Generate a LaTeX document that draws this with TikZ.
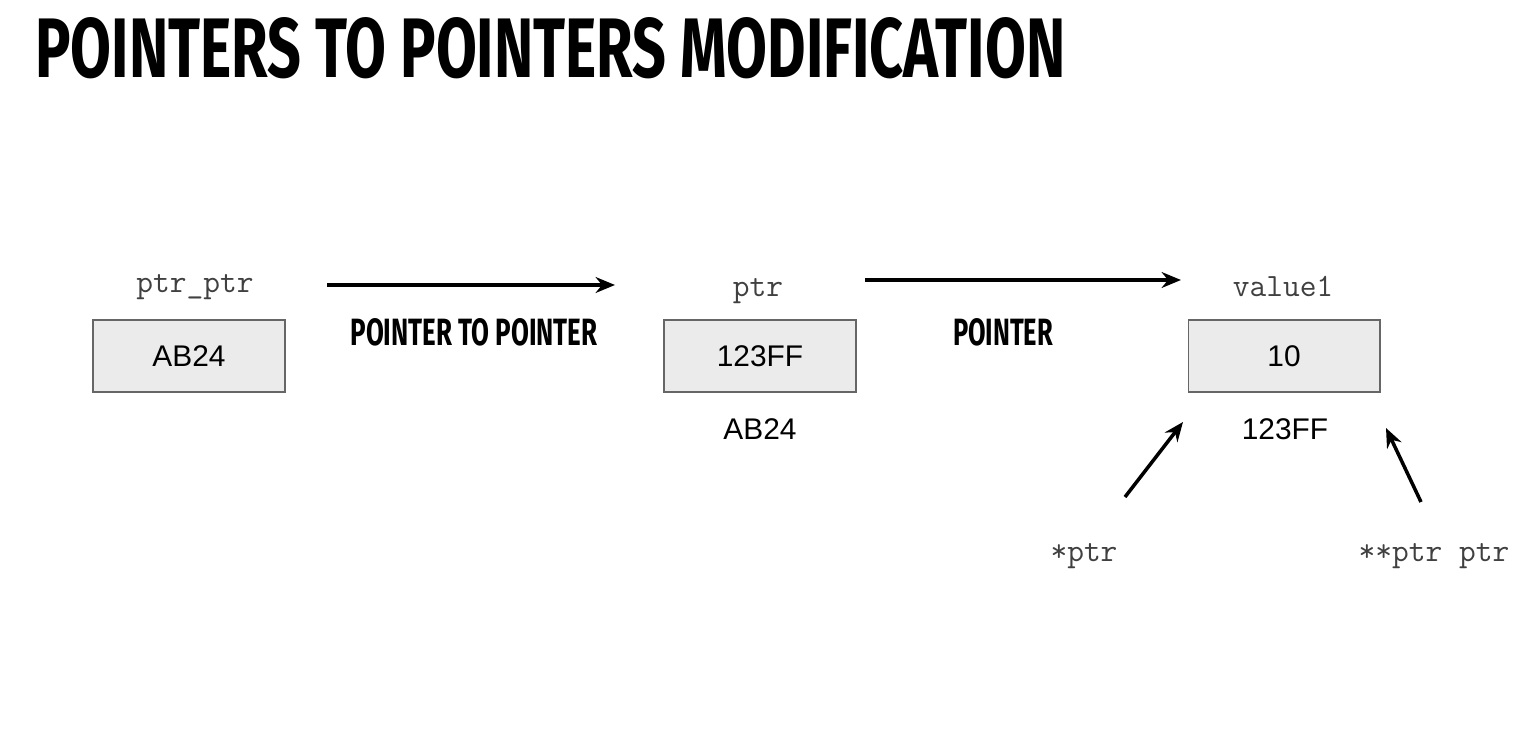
\documentclass[tikz,border=0pt]{standalone}
\usepackage{fontspec}
\setmainfont{Liberation Sans}
\newfontfamily\handfont{Fira Sans}
\usetikzlibrary{arrows.meta}

\begin{document}
\begin{tikzpicture}[x=0.02cm,y=-0.02cm,
  cell/.style={draw=black!60,fill=black!8,line width=0.6pt,minimum width=3.84cm,
    minimum height=1.44cm,inner sep=0pt,font=\fontsize{17}{20}\selectfont},
  varname/.style={font=\ttfamily\fontsize{18.5}{21}\selectfont,text=black!75},
  addr/.style={font=\fontsize{17}{20}\selectfont},
  hand/.style={inner sep=0pt},
  ptrarrow/.style={line width=2pt,-{Stealth[length=11pt,width=9pt]}}]
\useasboundingbox (0,0) rectangle (1522,729);

\node[hand,anchor=west] (title) at (35,48)
  {\resizebox{20.6cm}{1.2cm}{\handfont\bfseries POINTERS TO POINTERS MODIFICATION}};

% the three cells.
\node[cell] (ptrptrbox) at (189,356) {AB24};
\node[cell] (ptrbox) at (760,356) {123FF};
\node[cell] (valbox) at (1284,356) {10};

\node[varname] (ptrptrname) at (195,287) {ptr\_ptr};
\node[varname] (ptrname) at (758,291) {ptr};
\node[varname] (valname) at (1283,286) {value1};

\node[addr] (ptraddr) at (760,429) {AB24};
\node[addr] (valaddr) at (1285,429) {123FF};

\node[hand] (lblpp) at (474,332)
  {\resizebox{4.94cm}{0.54cm}{\handfont\bfseries POINTER TO POINTER}};
\node[hand] (lblp) at (1003,332)
  {\resizebox{2cm}{0.54cm}{\handfont\bfseries POINTER}};

\node[varname] (deref) at (1084,556) {*ptr};
\node[varname] (dderef) at (1434,556) {**ptr ptr};

\coordinate (a1) at (327,285);
\coordinate (b1) at (615,285);
\coordinate (a2) at (865,280);
\coordinate (b2) at (1181,280);
\coordinate (a3) at (1125,497); % from *ptr
\coordinate (b3) at (1183,422);
\coordinate (a4) at (1421,502); % from **ptr
\coordinate (b4) at (1386,428);

\draw[ptrarrow] (a1)--(b1);
\draw[ptrarrow] (a2)--(b2);
\draw[ptrarrow] (a3)--(b3);
\draw[ptrarrow] (a4)--(b4);

\end{tikzpicture}
\end{document}
